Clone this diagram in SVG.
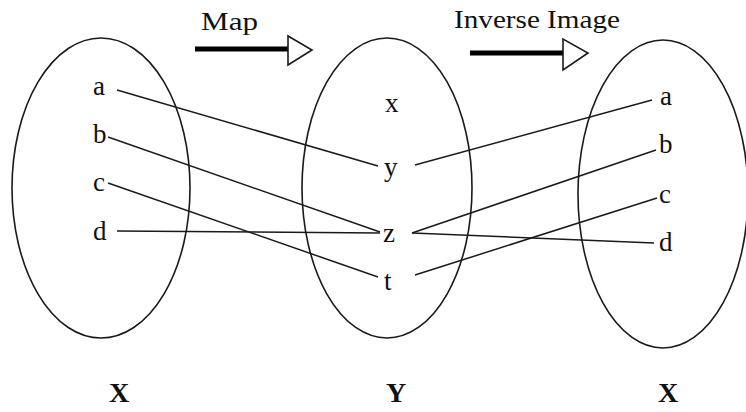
<svg xmlns="http://www.w3.org/2000/svg" width="746" height="412" viewBox="0 0 746 412">
<style>
.set{fill:none;stroke:#1a1a1a;stroke-width:1.6}
.ln{stroke:#1a1a1a;stroke-width:1.5;fill:none}
.lbl{font-family:"Liberation Serif","Times New Roman",serif;font-size:27px;fill:#111}
.ttl{font-family:"Liberation Serif","Times New Roman",serif;font-size:26px;fill:#111}
.big{font-family:"Liberation Serif","Times New Roman",serif;font-size:28px;font-weight:bold;fill:#111;text-anchor:middle}
.bar{stroke:#000;stroke-width:5}
.tri{fill:#fff;stroke:#1a1a1a;stroke-width:1.6}
</style>
<rect width="746" height="412" fill="#fff"/>
<g id="map-arrow">
<text class="ttl" x="201" y="30" textLength="57" lengthAdjust="spacingAndGlyphs">Map</text>
<line class="bar" x1="195" y1="49" x2="288" y2="49"/>
<polygon class="tri" points="288,36 288,65 312,50"/>
</g>
<g id="inverse-arrow">
<text class="ttl" x="454" y="28" textLength="166" lengthAdjust="spacingAndGlyphs">Inverse Image</text>
<line class="bar" x1="470" y1="53" x2="563" y2="53"/>
<polygon class="tri" points="563,39 563,70 588,53"/>
</g>
<g id="set-X-left">
<ellipse class="set" cx="101" cy="188" rx="89" ry="150"/>
<text class="lbl" x="93" y="95">a</text>
<text class="lbl" x="93" y="143">b</text>
<text class="lbl" x="93" y="191">c</text>
<text class="lbl" x="93" y="240">d</text>
<text class="big" x="119" y="402">X</text>
</g>
<g id="set-Y">
<ellipse class="set" cx="387" cy="188" rx="85" ry="150"/>
<text class="lbl" x="385" y="112">x</text>
<text class="lbl" x="384" y="176">y</text>
<text class="lbl" x="383" y="242">z</text>
<text class="lbl" x="384" y="290">t</text>
<text class="big" x="396" y="402">Y</text>
</g>
<g id="set-X-right">
<ellipse class="set" cx="663" cy="194" rx="85" ry="154"/>
<text class="lbl" x="660" y="105">a</text>
<text class="lbl" x="659" y="153">b</text>
<text class="lbl" x="659" y="203">c</text>
<text class="lbl" x="659" y="251">d</text>
<text class="big" x="668" y="402">X</text>
</g>
<g id="connectors">
<line class="ln" x1="117" y1="90" x2="378" y2="166"/>
<line class="ln" x1="108" y1="137" x2="380" y2="232"/>
<line class="ln" x1="108" y1="183" x2="378" y2="277"/>
<line class="ln" x1="117" y1="231" x2="380" y2="233"/>
<line class="ln" x1="415" y1="165" x2="652" y2="100"/>
<line class="ln" x1="412" y1="233" x2="656" y2="150"/>
<line class="ln" x1="412" y1="233" x2="654" y2="243"/>
<line class="ln" x1="415" y1="275" x2="657" y2="198"/>
</g>
</svg>
